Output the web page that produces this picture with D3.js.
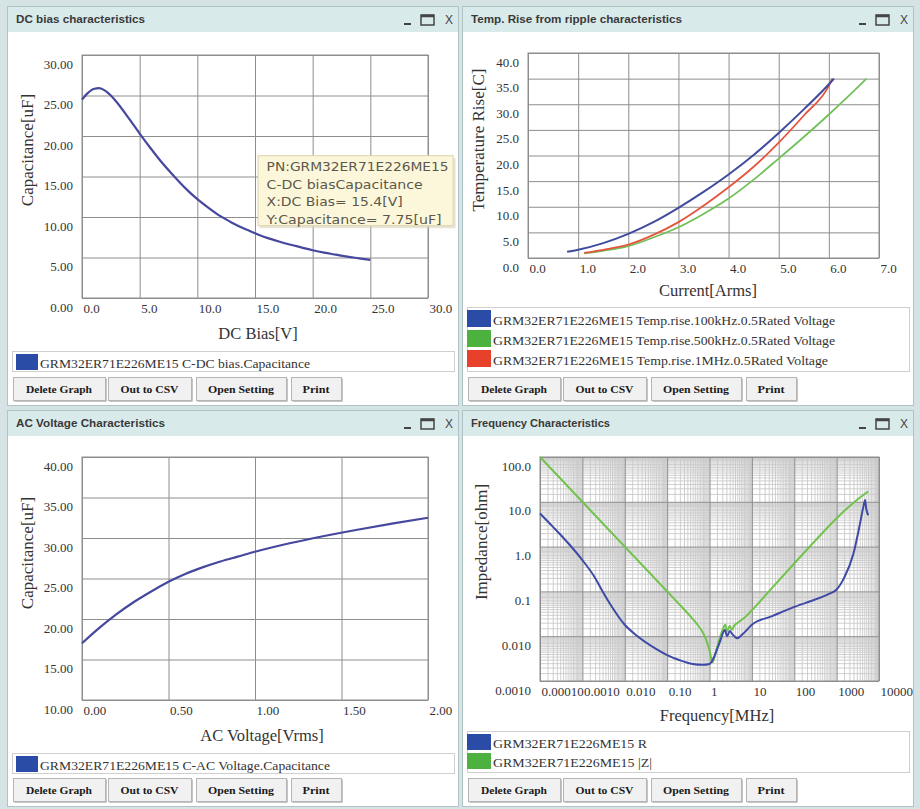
<!DOCTYPE html>
<html><head><meta charset="utf-8">
<script src="https://cdn.jsdelivr.net/npm/d3@7"></script>
<style>
html,body{margin:0;padding:0;background:#d6e3e5;}
svg{display:block;}
</style></head><body>
<svg id="c" width="920" height="809"></svg>
<script>
// ---------------- DATA ----------------
const partNo = "GRM32ER71E226ME15";

// DC bias characteristics
const dcBiasVolt = [0,0.5,1,1.5,2,2.5,3,4,5,6,7,8,9,10,11,12,13,14,15,16,17,18,19,20,21,22,23,24,25];
const dcBiasCap  = [24.5,25.3,25.8,25.9,25.6,25.0,24.2,22.3,20.3,18.4,16.6,15.0,13.5,12.2,11.1,10.1,9.3,8.6,8.0,7.45,7.0,6.6,6.25,5.9,5.6,5.35,5.1,4.9,4.7];
const dcXTicks = [0,5,10,15,20,25,30];
const dcYTicks = [0,5,10,15,20,25,30];

// Temperature rise from ripple
const ripI100k = [0.78,1.0,1.5,2.0,2.5,3.0,3.5,4.0,4.5,5.0,5.5,6.0,6.1];
const ripT100k = [1.2,1.6,2.9,4.7,7.0,9.8,12.9,16.3,20.1,24.4,29.0,33.9,35.0];
const ripI500k = [1.12,1.5,2.0,2.5,3.0,3.5,4.0,4.5,5.0,5.5,6.0,6.5,6.75];
const ripT500k = [0.9,1.4,2.3,4.0,6.0,8.6,11.6,15.3,19.4,23.6,28.0,32.6,35.0];
const ripI1M   = [1.12,1.5,2.0,2.5,3.0,3.5,4.0,4.5,5.0,5.5,6.0,6.07];
const ripT1M   = [1.0,1.6,2.6,4.5,7.0,10.2,13.8,17.8,22.5,27.8,33.6,35.0];
const ripXTicks = [0,1,2,3,4,5,6,7];
const ripYTicks = [0,5,10,15,20,25,30,35,40];

// AC voltage characteristics
const acVolt = [0,0.1,0.2,0.3,0.4,0.5,0.6,0.7,0.8,0.9,1.0,1.2,1.4,1.6,1.8,2.0];
const acCap  = [17.0,18.9,20.6,22.1,23.4,24.6,25.6,26.4,27.1,27.7,28.3,29.35,30.25,31.05,31.8,32.5];
const acXTicks = [0,0.5,1,1.5,2];
const acYTicks = [10,15,20,25,30,35,40];

// Frequency characteristics
const freqZ = [1e-4,1e-3,1e-2,0.1,0.2,0.3,0.5,0.7,0.85,1.0,1.1,1.18,1.3,1.5,1.8,2.1,2.35,2.6,3.0,3.4,3.8,5,7,10,30,100,300,1000,3000,5600];
const impZ  = [100,10,1,0.1,0.05,0.033,0.019,0.012,0.008,0.0048,0.0032,0.0026,0.0033,0.0055,0.01,0.015,0.018,0.013,0.017,0.014,0.017,0.021,0.027,0.038,0.12,0.42,1.3,4.3,11,17];
const freqR = [1e-4,2e-4,5e-4,1e-3,2e-3,3e-3,5e-3,1e-2,2e-2,5e-2,0.1,0.2,0.4,0.7,1.0,1.2,1.5,1.8,2.1,2.3,2.6,3.0,3.5,4.5,6,10,30,100,300,700,1000,1500,2500,3500,4300,4700,5000,5600];
const impR  = [5.5,2.8,1.1,0.5,0.2,0.1,0.045,0.018,0.010,0.0055,0.0038,0.0029,0.0024,0.0023,0.0024,0.003,0.005,0.008,0.012,0.014,0.010,0.013,0.011,0.009,0.011,0.018,0.028,0.045,0.065,0.09,0.11,0.2,0.7,3.0,8.0,11,7,5];
const freqXTicks  = [1e-4,1e-3,1e-2,0.1,1,10,100,1000,10000];
const freqXLabels = ["0.00010","0.0010","0.010","0.10","1","10","100","1000","10000"];
const freqYTicks  = [1e-3,1e-2,0.1,1,10,100];
const freqYLabels = ["0.0010","0.010","0.1","1.0","10.0","100.0"];

const buttonLabels = ["Delete Graph","Out to CSV","Open Setting","Print"];

// ---------------- DRAWING ----------------
const svg = d3.select("#c");
const SERIF = "'Liberation Serif','Times New Roman',serif";
const SANS = "'Liberation Sans',Arial,sans-serif";

function panelFrame(p) {
  const g = svg.append("g");
  g.append("rect").attr("x", p.x + 0.5).attr("y", p.y + 0.5).attr("width", p.w).attr("height", p.h)
    .attr("fill", "#ffffff").attr("stroke", "#b0c4c7");
  g.append("rect").attr("x", p.x + 1).attr("y", p.y + 1).attr("width", p.w - 1).attr("height", 25)
    .attr("fill", "#d9eaeb");
  g.append("text").text(p.title).attr("x", p.x + 9).attr("y", p.y + 17)
    .attr("font-family", SANS).attr("font-size", 10).attr("font-weight", "bold")
    .attr("fill", "#3a3a3a").attr("textLength", p.titleLen).attr("lengthAdjust", "spacingAndGlyphs");
  const r = p.x + p.w;
  g.append("line").attr("x1", r - 54).attr("x2", r - 47).attr("y1", p.y + 18).attr("y2", p.y + 18)
    .attr("stroke", "#444").attr("stroke-width", 2);
  g.append("rect").attr("x", r - 37).attr("y", p.y + 9).attr("width", 13).attr("height", 10)
    .attr("fill", "none").attr("stroke", "#444").attr("stroke-width", 1.5);
  g.append("line").attr("x1", r - 37).attr("x2", r - 24).attr("y1", p.y + 10).attr("y2", p.y + 10)
    .attr("stroke", "#444").attr("stroke-width", 2.5);
  g.append("text").text("X").attr("x", r - 9).attr("y", p.y + 18).attr("text-anchor", "middle")
    .attr("font-family", SANS).attr("font-size", 12).attr("fill", "#444");

  // legend box
  g.append("rect").attr("x", p.x + 5.5).attr("y", p.legendTop + 0.5).attr("width", p.w - 9)
    .attr("height", p.legendH).attr("fill", "#fff").attr("stroke", "#cfcfcf");
  p.legend.forEach((it, i) => {
    const ry = p.legendTop + 3 + i * p.rowH;
    g.append("rect").attr("x", p.x + p.swX).attr("y", ry).attr("width", p.swW).attr("height", p.rowH - 3)
      .attr("fill", it.color);
    g.append("text").text(it.label).attr("x", p.x + p.swX + p.swW + 2).attr("y", ry + p.rowH - 5)
      .attr("font-family", SERIF).attr("font-size", 13).attr("fill", "#333")
      .attr("textLength", it.len).attr("lengthAdjust", "spacingAndGlyphs");
  });

  // buttons
  const bx = [[6, 98, 66], [101, 184, 58], [189, 279, 66], [284, 334, 27]];
  const by = p.y + p.h - 28;
  buttonLabels.forEach((lab, i) => {
    const [a, b, tl] = bx[i];
    g.append("rect").attr("x", p.x + a + 1.5).attr("y", by + 1.5).attr("width", b - a).attr("height", 23)
      .attr("fill", "#8a8a8a");
    g.append("rect").attr("x", p.x + a + 0.5).attr("y", by + 0.5).attr("width", b - a).attr("height", 23)
      .attr("fill", "#f1f1f1").attr("stroke", "#b5b5b5");
    g.append("text").text(lab).attr("x", p.x + (a + b) / 2).attr("y", by + 16).attr("text-anchor", "middle")
      .attr("font-family", SERIF).attr("font-size", 10).attr("font-weight", "bold").attr("fill", "#1a1a1a")
      .attr("textLength", tl).attr("lengthAdjust", "spacingAndGlyphs");
  });
}

function plotArea(c) {
  const g = svg.append("g");
  const h = c.bottom - c.top, w = c.right - c.left;
  if (c.xMinor) {
    const gm = g.append("g").attr("transform", `translate(0,${c.bottom})`)
      .call(d3.axisBottom(c.xs).tickValues(c.xMinor).tickFormat("").tickSize(-h));
    gm.select(".domain").remove();
    gm.selectAll("line").attr("stroke", "#c9c9c9").attr("stroke-width", 0.9);
    const gy = g.append("g").attr("transform", `translate(${c.left},0)`)
      .call(d3.axisLeft(c.ys).tickValues(c.yMinor).tickFormat("").tickSize(-w));
    gy.select(".domain").remove();
    gy.selectAll("line").attr("stroke", "#c9c9c9").attr("stroke-width", 0.9);
  }
  const ax = g.append("g").attr("transform", `translate(0,${c.bottom})`)
    .call(d3.axisBottom(c.xs).tickValues(c.xTicks).tickFormat((d, i) => c.xLabel(d, i)).tickSize(-h));
  ax.select(".domain").remove();
  ax.selectAll("line").attr("stroke", "#8e8e8e");
  ax.selectAll("text").attr("text-anchor", "start").attr("x", 1).attr("y", 15).attr("dy", null)
    .attr("fill", "#333").attr("font-family", SERIF).attr("font-size", 13);

  const ay = g.append("g").attr("transform", `translate(${c.left},0)`)
    .call(d3.axisLeft(c.ys).tickValues(c.yTicks).tickFormat((d, i) => c.yLabel(d, i)).tickSize(-w));
  ay.select(".domain").remove();
  ay.selectAll("line").attr("stroke", "#8e8e8e");
  ay.selectAll("text").attr("text-anchor", "end").attr("x", -9).attr("y", 13).attr("dy", null)
    .attr("fill", "#333").attr("font-family", SERIF).attr("font-size", 13);

  g.append("rect").attr("x", c.left).attr("y", c.top).attr("width", w).attr("height", h)
    .attr("fill", "none").attr("stroke", "#8e8e8e");

  c.series.forEach(s => {
    g.append("path").datum(d3.zip(s.x, s.y)).attr("fill", "none").attr("stroke", s.color)
      .attr("stroke-width", s.width || 2).attr("stroke-linejoin", "round")
      .attr("d", d3.line().x(d => c.xs(d[0])).y(d => c.ys(d[1])).curve(d3.curveMonotoneX));
  });

  g.append("text").text(c.xTitle).attr("x", c.xTitlePos[0]).attr("y", c.xTitlePos[1]).attr("text-anchor", "middle")
    .attr("font-family", SERIF).attr("font-size", 16.5).attr("fill", "#333");
  g.append("text").text(c.yTitle).attr("transform", `translate(${c.yTitlePos[0]},${c.yTitlePos[1]}) rotate(-90)`)
    .attr("text-anchor", "middle").attr("dy", "0.35em")
    .attr("font-family", SERIF).attr("font-size", 17).attr("fill", "#333");
  return g;
}

const BLUE_LINE = "#46489e", SW_BLUE = "#2b4ca6", SW_GREEN = "#4db13f", SW_RED = "#e8412b";

// ---- Panel 1: DC bias ----
panelFrame({x: 7, y: 6, w: 451, h: 399, title: "DC bias characteristics", titleLen: 129,
  legendTop: 351, legendH: 20, rowH: 19, swX: 9, swW: 22,
  legend: [{label: partNo + " C-DC bias.Capacitance", color: SW_BLUE, len: 270}]});
const xs1 = d3.scaleLinear().domain([0, 30]).range([82, 428]);
const ys1 = d3.scaleLinear().domain([0, 30]).range([298, 55]);
plotArea({xs: xs1, ys: ys1, left: 82, right: 428, top: 55, bottom: 298,
  xTicks: dcXTicks, xLabel: d => d3.format(".1f")(d), yTicks: dcYTicks, yLabel: d => d3.format(".2f")(d),
  series: [{x: dcBiasVolt, y: dcBiasCap, color: BLUE_LINE, width: 2.2}],
  xTitle: "DC Bias[V]", xTitlePos: [258, 339], yTitle: "Capacitance[uF]", yTitlePos: [27, 150]});

// tooltip anchored at the hovered data point
const tipV = 15.4, tipC = 7.75;
const tx = xs1(tipV) - 2, tb = ys1(tipC) - 9;
const tip = svg.append("g");
tip.append("rect").attr("x", tx + 2).attr("y", tb - 68).attr("width", 196).attr("height", 70).attr("fill", "#d8d3bd").attr("opacity", 0.6);
tip.append("rect").attr("x", tx + 0.5).attr("y", tb - 70.5).attr("width", 195).attr("height", 70)
  .attr("fill", "#fcf7da").attr("stroke", "#dcd3ab");
const tipLines = [["PN:" + partNo, 182], ["C-DC biasCapacitance", 156], ["X:DC Bias= " + tipV + "[V]", 136], ["Y:Capacitance= " + tipC + "[uF]", 175]];
tipLines.forEach((t, i) => {
  tip.append("text").text(t[0]).attr("x", tx + 9).attr("y", tb - 55 + i * 17.5)
    .attr("font-family", "'DejaVu Sans',Verdana,sans-serif").attr("font-size", 12).attr("fill", "#5c584c")
    .attr("textLength", t[1]).attr("lengthAdjust", "spacingAndGlyphs");
});

// ---- Panel 2: Temp rise ----
panelFrame({x: 462, y: 6, w: 451, h: 399, title: "Temp. Rise from ripple characteristics", titleLen: 211,
  legendTop: 307, legendH: 64, rowH: 20, swX: 5, swW: 24,
  legend: [
    {label: partNo + " Temp.rise.100kHz.0.5Rated Voltage", color: SW_BLUE, len: 342},
    {label: partNo + " Temp.rise.500kHz.0.5Rated Voltage", color: SW_GREEN, len: 342},
    {label: partNo + " Temp.rise.1MHz.0.5Rated Voltage", color: SW_RED, len: 335}]});
const xs2 = d3.scaleLinear().domain([0, 7]).range([528, 879]);
const ys2 = d3.scaleLinear().domain([0, 40]).range([258, 53]);
plotArea({xs: xs2, ys: ys2, left: 528, right: 879, top: 53, bottom: 258,
  xTicks: ripXTicks, xLabel: d => d3.format(".1f")(d), yTicks: ripYTicks, yLabel: d => d3.format(".1f")(d),
  series: [
    {x: ripI500k, y: ripT500k, color: "#72c05a", width: 1.8},
    {x: ripI1M, y: ripT1M, color: "#e4553f", width: 1.8},
    {x: ripI100k, y: ripT100k, color: "#3f4c9e", width: 2}],
  xTitle: "Current[Arms]", xTitlePos: [708, 296], yTitle: "Temperature Rise[C]", yTitlePos: [478, 140]});

// ---- Panel 3: AC voltage ----
panelFrame({x: 7, y: 410, w: 451, h: 396, title: "AC Voltage Characteristics", titleLen: 149,
  legendTop: 753, legendH: 20, rowH: 19, swX: 9, swW: 22,
  legend: [{label: partNo + " C-AC Voltage.Capacitance", color: SW_BLUE, len: 290}]});
const xs3 = d3.scaleLinear().domain([0, 2]).range([82, 428]);
const ys3 = d3.scaleLinear().domain([10, 40]).range([700, 457]);
plotArea({xs: xs3, ys: ys3, left: 82, right: 428, top: 457, bottom: 700,
  xTicks: acXTicks, xLabel: d => d3.format(".2f")(d), yTicks: acYTicks, yLabel: d => d3.format(".2f")(d),
  series: [{x: acVolt, y: acCap, color: BLUE_LINE, width: 2.2}],
  xTitle: "AC Voltage[Vrms]", xTitlePos: [262, 741], yTitle: "Capacitance[uF]", yTitlePos: [27, 553]});

// ---- Panel 4: Frequency ----
panelFrame({x: 462, y: 410, w: 451, h: 396, title: "Frequency Characteristics", titleLen: 139,
  legendTop: 731, legendH: 41, rowH: 19, swX: 5, swW: 24,
  legend: [
    {label: partNo + " R", color: SW_BLUE, len: 154},
    {label: partNo + " |Z|", color: SW_GREEN, len: 159}]});
const xs4 = d3.scaleLog().domain([1e-4, 1e4]).range([540, 879]);
const ys4 = d3.scaleLog().domain([1e-3, 100]).range([681, 457]);
const minorSteps = d3.range(1.5, 10, 0.5);
const xMinor4 = [], yMinor4 = [];
for (let e = -4; e < 4; e++) minorSteps.forEach(m => xMinor4.push(m * Math.pow(10, e)));
for (let e = -3; e < 2; e++) minorSteps.forEach(m => yMinor4.push(m * Math.pow(10, e)));
plotArea({xs: xs4, ys: ys4, left: 540, right: 879, top: 457, bottom: 681,
  xMinor: xMinor4, yMinor: yMinor4,
  xTicks: freqXTicks, xLabel: (d, i) => freqXLabels[i], yTicks: freqYTicks, yLabel: (d, i) => freqYLabels[i],
  series: [
    {x: freqZ, y: impZ, color: "#72c24e", width: 2},
    {x: freqR, y: impR, color: "#3f4aa6", width: 2}],
  xTitle: "Frequency[MHz]", xTitlePos: [717, 721], yTitle: "Impedance[ohm]", yTitlePos: [481, 542]});
</script>
</body></html>
